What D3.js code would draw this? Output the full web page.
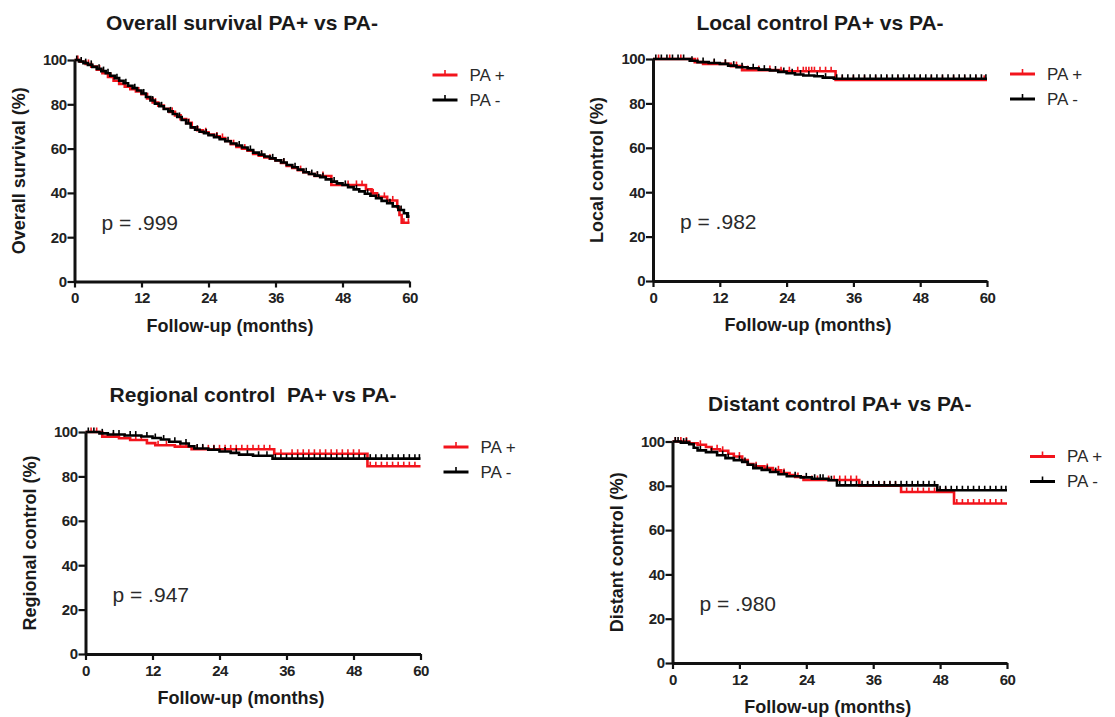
<!DOCTYPE html>
<html>
<head>
<meta charset="utf-8">
<script src="https://cdn.jsdelivr.net/npm/d3@7/dist/d3.min.js"></script>
<style>
    body {margin: 0; background: #fff;}
    text {font-family: "Liberation Sans", Arial, sans-serif; white-space: pre;}
</style>
</head>
<body>
<div id="chart"></div>
<script>
const titles = ["Overall survival PA+ vs PA-", "Local control PA+ vs PA-", "Regional control  PA+ vs PA-", "Distant control PA+ vs PA-"];
const yLabels = ["Overall survival (%)", "Local control (%)", "Regional control (%)", "Distant control (%)"];
const pValues = ["p = .999", "p = .982", "p = .947", "p = .980"];
const seriesNames = ["PA +", "PA -"];
const xTicks = [0, 12, 24, 36, 48, 60];
const yTicks = [0, 20, 40, 60, 80, 100];
const endTime = 60;

// steps: [month, % event free]
const osPos = [[0,100],[1,99.2],[2,98.2],[3,97],[4,95.6],[5,94],[6,92.3],[7,90.6],[8,89.2],[9,88],[10,86.8],[11,85.8],[12,84.6],[13,82.6],[14,80.8],[15,79.4],[16,78],[17,76.6],[18,75],[19,73.3],[20,71.6],[21,69.6],[22,68.3],[23,67.4],[24,66.3],[25,65.5],[26,64.8],[27,63.4],[28,62],[29,60.8],[30,60],[31,59],[32,57.6],[33,56.8],[34,56],[35,55.4],[36,54.6],[37,53.5],[38,52.2],[39,51.3],[40,50.3],[41,49.3],[42,48.5],[43,47.6],[46,43.6],[52.2,41.6],[53.2,39.8],[54.2,38.2],[56,36.6],[57.8,33.5],[58.2,30],[58.6,26.5]];
const osNeg = [[0,100],[0.8,99.3],[1.6,98.6],[2.4,97.8],[3.2,96.9],[4,96],[4.8,95],[5.6,94],[6.4,92.9],[7.2,91.8],[8,90.6],[8.8,89.5],[9.6,88.4],[10.4,87.3],[11.2,86.2],[12,84.9],[12.8,83.3],[13.6,81.7],[14.4,80.3],[15.2,79.1],[16,77.9],[16.8,76.8],[17.6,75.6],[18.4,74.3],[19.2,72.9],[20,71.3],[20.8,69.6],[21.6,68.5],[22.4,67.6],[23.2,66.9],[24,66.1],[25,65.1],[26,64.2],[27,63.3],[28,62.3],[29,61.4],[30,60.5],[31,59.4],[32,58.2],[33,57.3],[34,56.4],[35,55.6],[36,54.7],[37,53.7],[38,52.6],[39,51.6],[40,50.5],[41,49.3],[42,48.5],[43,47.8],[44,47.1],[45,46.1],[46,45.1],[47,44.3],[48,43.6],[49,42.6],[50,41.6],[51,40.7],[52,39.6],[53,38.7],[54,37.6],[55,36.4],[56,35.3],[57,33.9],[58,32.3],[59,30.8],[59.6,29.3]];
const lcPos = [[0,100],[7.5,98.6],[9,97.8],[14,96.8],[16,95],[23,94.5],[32.8,90.6]];
const lcNeg = [[0,100],[6.6,99.2],[8,98.6],[10,98.2],[12,97.8],[13.5,97],[15,96.3],[17,95.8],[19,95.2],[21,94.8],[22.5,94.2],[24,93.6],[25.5,93],[27,92.6],[29,92.2],[30.5,91.6],[32.5,91.1]];
const rcPos = [[0,100],[3,97.9],[6,97.2],[8,96.4],[11,95],[12.5,94],[16,93.4],[19,92.2],[33.8,90.2],[50.5,84.6]];
const rcNeg = [[0,100],[2.5,99.4],[4,98.9],[7,98.4],[10,98],[12,97.3],[13.5,96.6],[15,95.6],[17,94.8],[18.5,93.6],[19.5,92.6],[22,92],[24,91.2],[26,90.6],[27.5,89.8],[30,89.3],[33.5,88]];
const dcPos = [[0,100],[3,99.2],[4.5,98.5],[6,97.5],[7,96.5],[8.5,95.8],[10,94.5],[11,93.2],[12.5,91.6],[13.5,89.8],[14.5,88.8],[16.5,88],[18,87],[19.5,85.8],[21,84.8],[22,84],[23.5,82.6],[33.5,80],[41,77.2],[50.5,72]];
const dcNeg = [[0,100],[1.5,99.5],[3,98.8],[3.8,97.2],[4.5,96],[6,95.2],[8,93.8],[9.5,92.5],[11,91.6],[12.5,90.8],[13.5,89.5],[14.5,88],[16,87.2],[17.5,86.2],[19,85.2],[20.5,84.3],[23,83.8],[25,83.2],[28,82.5],[29.5,80.2],[47.5,78]];

// censored observations (months)
const osPosCens = [0.6,2.5,4.5,6.5,9.5,11.5,14.5,17.5,20.5,23.5,25.5,26.5,28.5,30.5,33.5,35,37.5,40.5,43.5,44.5,47,49,50.5,51.5,53.5,55.5,57,59,59.8];
const osNegCens = [0.4,1.2,2,3,4.4,5.2,6,7.6,9.2,10.8,12.4,14,15.6,17.2,18.8,20.4,22,23.6,25.5,27.5,29.5,31.5,33.5,35.5,37.5,39.5,41.5,42.5,43.5,44.5,46.5,48.5,50.5,52.5,54.5,56.5,58.5,59.8];
const lcPosCens = [1,3,5,8,11,13,15,17,19,21,23,24.5,26,27,27.5,28,28.5,29,30,31,32,34,36,38,40,42,44,46,48,50,52,54,56,58,59.5];
const lcNegCens = [0.5,1.5,2.5,3.5,4.5,5.5,7,9,11,13,14.5,16,18,20,22,23.5,25,26.5,28,29.5,31,33,34,35,36,37,38,39,40,41,42,43,44,45,46,47,48,49,50,51,52,53,54,55,56,57,58,59,59.8];
const rcPosCens = [1,2,4,5,7,9,10,13,14.5,17,18,20,21,22,23,24,25,26,27,28,29,30,31,32,33,35,37,38,39,40,41,42,43,44,45,46,47,48,49,51,52,53,54,55,56,57,58,59];
const rcNegCens = [0.5,1.5,3,5,6,8,9,11,12.5,14,16,18,20,21,23,25,27,29,31,32.5,34,35,36,37,38,39,40,41,42,43,44,45,46,47,48,49,50,51,52,53,54,55,56,57,58,59,59.8];
const dcPosCens = [0.5,1.5,2.5,5,8,9,12,15,17,19,20,22.5,25,26,28,29,30,31,32,33,35,36,37,38,39,40,42,43,44,45,46,47,48,49,51,52,53,54,55,56,57,58,59];
const dcNegCens = [0.5,1,2,2.5,5,7,9,10,12,13,15,17,18.5,20,22,24,25.5,26.5,27,28.5,30,31,32,33,34,35,36,37,38,39,40,41,42,43,44,45,46,47,48,49,50,51,52,53,54,55,56,57,58,59,59.8];

const colors = ["#f2141c", "#000000"];

const boxes = [
    {x0: 74.5, x1: 409.5, top: 60, bottom: 281.5},
    {x0: 653, x1: 987, top: 59, bottom: 281},
    {x0: 85.5, x1: 420.5, top: 432, bottom: 654},
    {x0: 672.5, x1: 1007, top: 441.5, bottom: 663}
];
const titleBaselines = [30, 30, 402, 411];

const svg = d3.select("#chart").append("svg")
    .attr("width", 1115)
    .attr("height", 717);

function stepValue(steps, t) {
    let v = steps[0][1];
    steps.forEach(s => {
        if (s[0] <= t) v = s[1];
    });
    return v;
}

function drawPanel(i, pos, neg, posCens, negCens) {
    const b = boxes[i];
    const x = d3.scaleLinear().domain([0, 60]).range([b.x0, b.x1]);
    const y = d3.scaleLinear().domain([0, 100]).range([b.bottom, b.top]);
    const g = svg.append("g");

    g.append("text")
        .attr("x", (b.x0 + b.x1) / 2)
        .attr("y", titleBaselines[i])
        .attr("text-anchor", "middle")
        .attr("font-size", 21)
        .attr("font-weight", "bold")
        .attr("fill", "#1a1a1a")
        .text(titles[i]);

    const line = d3.line()
        .x(d => x(d[0]))
        .y(d => y(d[1]))
        .curve(d3.curveStepAfter);

    [[pos, posCens], [neg, negCens]].forEach((s, k) => {
        const steps = s[0].concat([[endTime, s[0][s[0].length - 1][1]]]);
        g.append("path")
            .attr("d", line(steps))
            .attr("fill", "none")
            .attr("stroke", colors[k])
            .attr("stroke-width", 2.6);
        g.selectAll(null)
            .data(s[1])
            .enter().append("line")
            .attr("x1", d => x(d))
            .attr("x2", d => x(d))
            .attr("y1", d => y(stepValue(s[0], d)))
            .attr("y2", d => y(stepValue(s[0], d)) - 4.5)
            .attr("stroke", colors[k])
            .attr("stroke-width", 1.6);
    });

    const xAxis = g.append("g")
        .attr("transform", "translate(0," + b.bottom + ")")
        .call(d3.axisBottom(x).tickValues(xTicks).tickSize(6).tickSizeOuter(0).tickPadding(5));
    const yAxis = g.append("g")
        .attr("transform", "translate(" + b.x0 + ",0)")
        .call(d3.axisLeft(y).tickValues(yTicks).tickSize(7).tickSizeOuter(0).tickPadding(1));

    [xAxis, yAxis].forEach(a => {
        a.select(".domain").attr("stroke", "#111").attr("stroke-width", 3);
        a.selectAll(".tick line").attr("stroke", "#111").attr("stroke-width", 2.2);
        a.selectAll(".tick text")
            .attr("font-size", 15)
            .attr("font-weight", "bold")
            .attr("font-family", "\"Liberation Sans\", Arial, sans-serif")
            .attr("letter-spacing", "-0.5px")
            .attr("fill", "#222");
    });

    g.append("text")
        .attr("x", (b.x0 + b.x1) / 2 - 12)
        .attr("y", b.bottom + 50)
        .attr("text-anchor", "middle")
        .attr("font-size", 18)
        .attr("font-weight", "bold")
        .attr("fill", "#1a1a1a")
        .text("Follow-up (months)");

    g.append("text")
        .attr("transform", "translate(" + (b.x0 - 50) + "," + ((b.top + b.bottom) / 2) + ") rotate(-90)")
        .attr("text-anchor", "middle")
        .attr("font-size", 18)
        .attr("font-weight", "bold")
        .attr("fill", "#1a1a1a")
        .text(yLabels[i]);

    g.append("text")
        .attr("x", b.x0 + 27)
        .attr("y", b.bottom - 52)
        .attr("font-size", 21)
        .attr("fill", "#2a2a2a")
        .text(pValues[i]);

    const legend = g.selectAll(".legend")
        .data(seriesNames)
        .enter().append("g")
        .attr("transform", (d, k) => "translate(" + b.x1 + "," + (b.top + 15 + k * 25) + ")");
    legend.append("line")
        .attr("x1", 23).attr("x2", 48)
        .attr("stroke", (d, k) => colors[k])
        .attr("stroke-width", 3);
    legend.append("line")
        .attr("x1", 35.5).attr("x2", 35.5)
        .attr("y1", 0).attr("y2", -5)
        .attr("stroke", (d, k) => colors[k])
        .attr("stroke-width", 1.6);
    legend.append("text")
        .attr("x", 60)
        .attr("dy", "0.35em")
        .attr("font-size", 17)
        .attr("fill", "#2a2a2a")
        .text(d => d);
}

drawPanel(0, osPos, osNeg, osPosCens, osNegCens);
drawPanel(1, lcPos, lcNeg, lcPosCens, lcNegCens);
drawPanel(2, rcPos, rcNeg, rcPosCens, rcNegCens);
drawPanel(3, dcPos, dcNeg, dcPosCens, dcNegCens);
</script>
</body>
</html>
